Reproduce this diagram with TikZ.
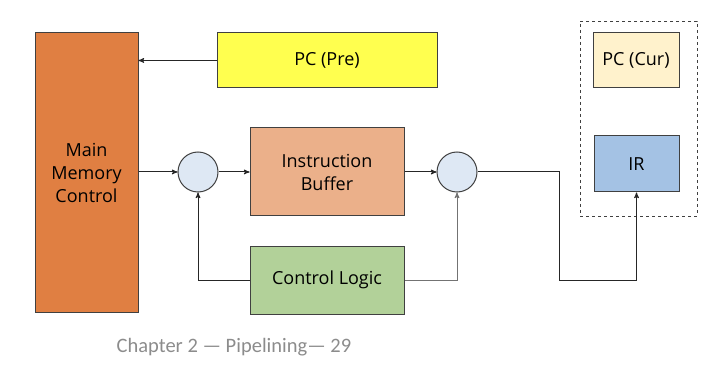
\documentclass[tikz,border=0pt]{standalone}
\usepackage{fontspec}
\setmainfont{Open Sans}
\newfontfamily\capfont{Carlito}
\usepackage{tikz}
\usetikzlibrary{arrows}

\definecolor{memorange}{HTML}{E07F42}
\definecolor{preyellow}{HTML}{FFFF4F}
\definecolor{bufpeach}{HTML}{EBB08A}
\definecolor{curcream}{HTML}{FFF2CC}
\definecolor{irblue}{HTML}{A4C2E4}
\definecolor{logicgreen}{HTML}{B2D199}
\definecolor{joinblue}{HTML}{DEE8F4}
\definecolor{edgegray}{HTML}{404040}

\begin{document}
\begin{tikzpicture}[x=1pt,y=-1pt,->,>=stealth',line width=1pt,draw=black!85,
  main node/.style={rectangle,draw=edgegray,align=center,inner sep=0pt,font=\fontsize{18}{23}\selectfont},
  join node/.style={circle,draw=edgegray,fill=joinblue,minimum size=40pt,inner sep=0pt}]

\useasboundingbox (0,0) rectangle (720,374);

\node[main node,fill=memorange,minimum width=103pt,minimum height=279pt] (1) at (86.5,172.5) {Main\\Memory\\Control};
\node[main node,fill=preyellow,minimum width=220pt,minimum height=55pt] (2) at (327,60.5) {PC (Pre)};
\node[join node] (3) at (198,172) {};
\node[main node,fill=bufpeach,minimum width=154pt,minimum height=88pt] (4) at (327,172) {Instruction\\Buffer};
\node[join node] (5) at (457,172) {};
\node[main node,fill=logicgreen,minimum width=154pt,minimum height=68pt] (6) at (327,280) {Control Logic};

\node[draw=edgegray,dashed,line width=0.8pt,minimum width=117pt,minimum height=195pt,inner sep=0pt] (9) at (638.5,118.5) {};
\node[main node,fill=curcream,minimum width=86pt,minimum height=55pt] (7) at (636,60.5) {PC (Cur)};
\node[main node,fill=irblue,minimum width=85pt,minimum height=56pt] (8) at (636.5,164) {IR};

\node[text=black!45,font=\capfont\fontsize{20.5}{24}\selectfont] (10) at (234,347) {Chapter 2 — Pipelining— 29};

\coordinate (11) at (559,280);

%top feedback
\draw (2.west) -- (1.east |- 2.west);

%main path
\draw (1.east |- 3.west) -- (3.west);
\draw (3) -- (4);
\draw (4) -- (5);
\draw (5.east) -| (11) -| (8.south);

%control lines
\draw (6.west) -| (3.south);
\draw[draw=black!55] (6.east) -| (5.south);

\end{tikzpicture}
\end{document}
